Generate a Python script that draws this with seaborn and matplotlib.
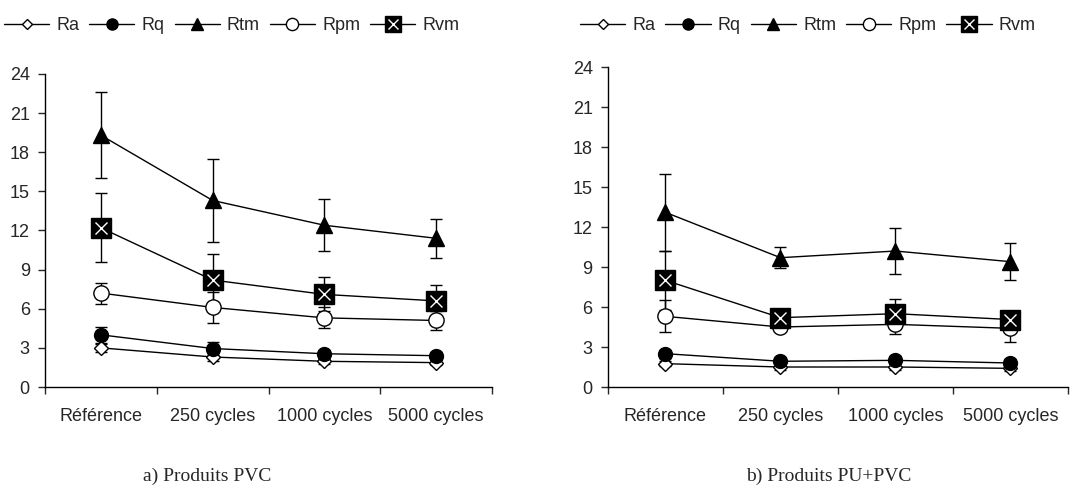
import numpy as np
import pandas as pd
import matplotlib
matplotlib.use("Agg")
import matplotlib.pyplot as plt
from matplotlib.lines import Line2D
import seaborn as sns

categories = ["Référence", "250 cycles", "1000 cycles", "5000 cycles"]
series = ["Ra", "Rq", "Rtm", "Rpm", "Rvm"]

# Panel a) Produits PVC
pvc_Ra = [3.0, 2.3, 1.97, 1.87]
pvc_Rq = [4.0, 2.95, 2.55, 2.4]
pvc_Rtm = [19.3, 14.3, 12.4, 11.4]
pvc_Rpm = [7.2, 6.1, 5.3, 5.1]
pvc_Rvm = [12.2, 8.2, 7.1, 6.6]
pvc_Ra_err = [0.3, 0.3, 0.2, 0.2]
pvc_Rq_err = [0.6, 0.5, 0.3, 0.3]
pvc_Rtm_err = [3.3, 3.2, 2.0, 1.5]
pvc_Rpm_err = [0.8, 1.2, 0.8, 0.7]
pvc_Rvm_err = [2.65, 2.0, 1.3, 1.2]

# Panel b) Produits PU+PVC
pu_Ra = [1.75, 1.5, 1.5, 1.4]
pu_Rq = [2.5, 1.93, 2.0, 1.8]
pu_Rtm = [13.1, 9.7, 10.2, 9.4]
pu_Rpm = [5.3, 4.5, 4.7, 4.4]
pu_Rvm = [8.0, 5.2, 5.5, 5.06]
pu_Ra_err = [0.2, 0.2, 0.2, 0.2]
pu_Rq_err = [0.3, 0.3, 0.3, 0.3]
pu_Rtm_err = [2.9, 0.8, 1.7, 1.4]
pu_Rpm_err = [1.2, 0.3, 0.7, 1.0]
pu_Rvm_err = [2.2, 0.6, 1.1, 0.5]

yticks = [0, 3, 6, 9, 12, 15, 18, 21, 24]
captions = ["a) Produits PVC", "b) Produits PU+PVC"]

sns.set_style("ticks")
plt.rcParams["font.family"] = ["Liberation Sans", "DejaVu Sans"]

styles = {
    "Ra": dict(marker="D", mfc="white", mec="black", ms=7),
    "Rq": dict(marker="o", mfc="black", mec="black", ms=10),
    "Rtm": dict(marker="^", mfc="black", mec="black", ms=11),
    "Rpm": dict(marker="o", mfc="white", mec="black", ms=11),
    "Rvm": dict(marker="s", mfc="black", mec="black", ms=14),
}

fig = plt.figure(figsize=(10.73, 4.93), dpi=100)
ax1 = fig.add_axes([0.042, 0.215, 0.4166, 0.635])
ax2 = fig.add_axes([0.5666, 0.215, 0.4287, 0.649])

panels = [
    (ax1, dict(Ra=(pvc_Ra, pvc_Ra_err), Rq=(pvc_Rq, pvc_Rq_err), Rtm=(pvc_Rtm, pvc_Rtm_err),
               Rpm=(pvc_Rpm, pvc_Rpm_err), Rvm=(pvc_Rvm, pvc_Rvm_err))),
    (ax2, dict(Ra=(pu_Ra, pu_Ra_err), Rq=(pu_Rq, pu_Rq_err), Rtm=(pu_Rtm, pu_Rtm_err),
               Rpm=(pu_Rpm, pu_Rpm_err), Rvm=(pu_Rvm, pu_Rvm_err))),
]

x = np.arange(len(categories))
for ax, data in panels:
    for s in series:
        vals, errs = data[s]
        ax.errorbar(x, vals, yerr=errs, fmt="none", ecolor="black", elinewidth=1.0,
                    capsize=4.5, capthick=1.0, zorder=2)
    for s in series:
        vals, errs = data[s]
        df = pd.DataFrame({"x": x, "y": vals})
        sns.lineplot(data=df, x="x", y="y", ax=ax, color="black", linewidth=1.0,
                     zorder=3, legend=False)
    for s in series:
        vals, errs = data[s]
        st = styles[s]
        ax.plot(x, vals, linestyle="none", marker=st["marker"], markersize=st["ms"],
                markerfacecolor=st["mfc"], markeredgecolor=st["mec"], markeredgewidth=1.0,
                zorder=4)
        if s == "Rvm":
            ax.plot(x, vals, linestyle="none", marker="x", markersize=8, color="white",
                    markeredgewidth=1.0, zorder=5)
    ax.set_xlim(-0.5, 3.5)
    ax.set_ylim(0, 24)
    ax.set_yticks(yticks)
    ax.set_yticklabels([str(t) for t in yticks], fontsize=13)
    ax.set_xticks(np.arange(-0.5, 4.0, 1.0))
    ax.set_xticklabels([])
    ax.set_xticks(x, minor=True)
    ax.set_xticklabels(categories, minor=True, fontsize=13)
    ax.tick_params(axis="x", which="minor", length=0, pad=15)
    ax.tick_params(axis="x", which="major", length=5, direction="out", width=1)
    ax.tick_params(axis="y", length=5, direction="out", width=1, pad=6)
    ax.set_xlabel("")
    ax.set_ylabel("")
    for sp in ["top", "right"]:
        ax.spines[sp].set_visible(False)
    for sp in ["left", "bottom"]:
        ax.spines[sp].set_color("black")
        ax.spines[sp].set_linewidth(1.0)


def handles():
    hs = []
    for s in series:
        st = styles[s]
        if s == "Rvm":
            h = (Line2D([], [], color="black", lw=1.0, marker="s", ms=11, mfc="black", mec="black"),
                 Line2D([], [], linestyle="none", marker="x", ms=7, color="white", mew=1.0))
        else:
            h = Line2D([], [], color="black", lw=1.0, marker=st["marker"], ms=st["ms"] * 0.8,
                       mfc=st["mfc"], mec=st["mec"])
        hs.append(h)
    return hs


for cx in [0.216, 0.753]:
    fig.legend(handles(), series, loc="center", bbox_to_anchor=(cx, 0.948), ncol=5,
               frameon=False, fontsize=13, handlelength=2.5, handletextpad=0.4,
               columnspacing=0.55, borderpad=0)

serif = ["Liberation Serif", "DejaVu Serif"]
fig.text(0.193, 0.034, captions[0], ha="center", va="center", fontsize=14, family=serif)
fig.text(0.772, 0.034, captions[1], ha="center", va="center", fontsize=14, family=serif)

fig.savefig("out.png", dpi=100)
